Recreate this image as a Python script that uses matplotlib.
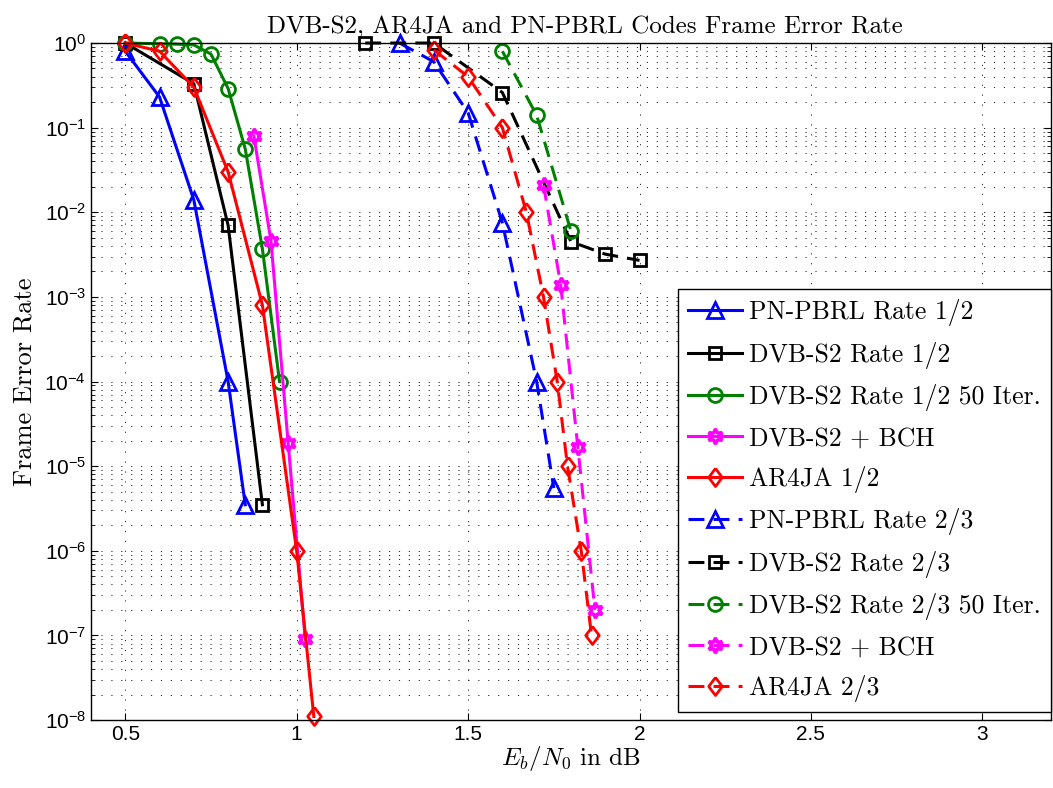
import math
import matplotlib
matplotlib.use("Agg")
import matplotlib.pyplot as plt
from matplotlib.ticker import FuncFormatter, NullFormatter, FixedLocator

plt.rcParams['mathtext.fontset'] = 'cm'

# Rate 1/2 codes
pbrl12_x = [0.5, 0.6, 0.7, 0.8, 0.85]
pbrl12_y = [0.8, 0.23, 0.014, 1e-4, 3.5e-6]

dvb12_x = [0.5, 0.7, 0.8, 0.9]
dvb12_y = [1.0, 0.33, 0.007, 3.5e-6]

dvb12it_x = [0.5, 0.6, 0.65, 0.7, 0.75, 0.8, 0.85, 0.9, 0.95]
dvb12it_y = [1.0, 0.98, 0.97, 0.95, 0.74, 0.29, 0.056, 0.0037, 1e-4]

bch12_x = [0.875, 0.925, 0.975, 1.025]
bch12_y = [0.08, 0.0046, 1.9e-5, 9e-8]

ar4ja12_x = [0.5, 0.6, 0.7, 0.8, 0.9, 1.0, 1.05]
ar4ja12_y = [1.0, 0.8, 0.3, 0.03, 8e-4, 1e-6, 1.1e-8]

# Rate 2/3 codes
pbrl23_x = [1.3, 1.4, 1.5, 1.6, 1.7, 1.75]
pbrl23_y = [1.0, 0.6, 0.15, 0.0075, 1e-4, 5.5e-6]

dvb23_x = [1.2, 1.4, 1.6, 1.8, 1.9, 2.0]
dvb23_y = [1.0, 1.0, 0.26, 0.0045, 0.0032, 0.0027]

dvb23it_x = [1.6, 1.7, 1.8]
dvb23it_y = [0.8, 0.14, 0.006]

bch23_x = [1.72, 1.77, 1.82, 1.87]
bch23_y = [0.021, 0.0014, 1.7e-5, 2e-7]

ar4ja23_x = [1.4, 1.5, 1.6, 1.67, 1.72, 1.76, 1.79, 1.83, 1.86]
ar4ja23_y = [0.83, 0.4, 0.1, 0.01, 1e-3, 1e-4, 1e-5, 1e-6, 1e-7]

labels = ['PN-PBRL Rate 1/2', 'DVB-S2 Rate 1/2', 'DVB-S2 Rate 1/2 50 Iter.',
          'DVB-S2 + BCH', 'AR4JA 1/2', 'PN-PBRL Rate 2/3', 'DVB-S2 Rate 2/3',
          'DVB-S2 Rate 2/3 50 Iter.', 'DVB-S2 + BCH', 'AR4JA 2/3']

x_ticks = [0.5, 1, 1.5, 2, 2.5, 3]
y_decades = list(range(-8, 1))

blue = (0, 0, 1)
green = (0, 0.5, 0)
magenta = (1, 0, 1)
red = (1, 0, 0)

diamond = [(0, 1), (0.75, 0), (0, -1), (-0.75, 0), (0, 1)]
hexagram = (6, 1, 0)

# x, y, colour, marker, marker size, marker edge width
series = [
    (pbrl12_x, pbrl12_y, blue, '^', 11, 2.0),
    (dvb12_x, dvb12_y, 'k', 's', 8, 2.0),
    (dvb12it_x, dvb12it_y, green, 'o', 10, 2.0),
    (bch12_x, bch12_y, magenta, hexagram, 11, 2.5),
    (ar4ja12_x, ar4ja12_y, red, diamond, 13, 2.0),
    (pbrl23_x, pbrl23_y, blue, '^', 11, 2.0),
    (dvb23_x, dvb23_y, 'k', 's', 8, 2.0),
    (dvb23it_x, dvb23it_y, green, 'o', 10, 2.0),
    (bch23_x, bch23_y, magenta, hexagram, 11, 2.5),
    (ar4ja23_x, ar4ja23_y, red, diamond, 13, 2.0),
]

fig = plt.figure(figsize=(10.53, 7.88), dpi=100)
ax = fig.add_axes([0.0864, 0.0863, 0.9116, 0.8591])

for i, (x, y, c, m, ms, mew) in enumerate(series):
    ls = '-' if i < 5 else (0, (5.2, 3.0))
    ax.semilogy(x, y, color=c, linestyle=ls, linewidth=2.2, marker=m,
                markersize=ms, markerfacecolor='none', markeredgecolor=c,
                markeredgewidth=mew, label=labels[i], clip_on=False)

ax.set_xlim(0.4, 3.2)
ax.set_ylim(1e-8, 1)
ax.xaxis.set_major_locator(FixedLocator(x_ticks))
ax.yaxis.set_major_locator(FixedLocator([10.0 ** d for d in y_decades]))
ax.yaxis.set_minor_locator(FixedLocator(
    [k * 10.0 ** d for d in y_decades[:-1] for k in range(2, 10)]))
ax.yaxis.set_minor_formatter(NullFormatter())
ax.yaxis.set_major_formatter(FuncFormatter(
    lambda v, p: r'$\mathregular{10^{%d}}$' % round(math.log10(v))))
ax.xaxis.set_major_formatter(FuncFormatter(lambda v, p: '%g' % v))

ax.tick_params(which='both', direction='in', top=True, right=True)
ax.tick_params(which='major', length=5, labelsize=15)
ax.tick_params(which='minor', length=3)
for lab in ax.get_xticklabels() + ax.get_yticklabels():
    lab.set_fontfamily('Liberation Sans')

# sparse dotted grid
grid_style = dict(linestyle=(0, (1.2, 9)), color='0.15', linewidth=0.7)
ax.grid(True, which='major', **grid_style)
ax.grid(True, which='minor', axis='y', **grid_style)
for s in ax.spines.values():
    s.set_linewidth(1.0)

ax.set_title('DVB-S2, AR4JA and PN-PBRL Codes Frame Error Rate',
             fontfamily='cmr10', fontsize=18, pad=7, x=0.515)
ax.set_xlabel(r'$E_b/N_0$ in dB', fontfamily='cmr10', fontsize=18, labelpad=0)
ax.set_ylabel('Frame Error Rate', fontfamily='cmr10', fontsize=19, labelpad=6)

leg = ax.legend(loc='lower right', bbox_to_anchor=(1.0, 0.012), borderaxespad=0,
                prop={'family': 'cmr10', 'size': 18.5}, fancybox=False,
                edgecolor='k', framealpha=1, handlelength=2.1, labelspacing=0.6,
                handletextpad=0.25, borderpad=0.4)
leg.get_frame().set_linewidth(1.0)

fig.savefig('out.png', dpi=100)
